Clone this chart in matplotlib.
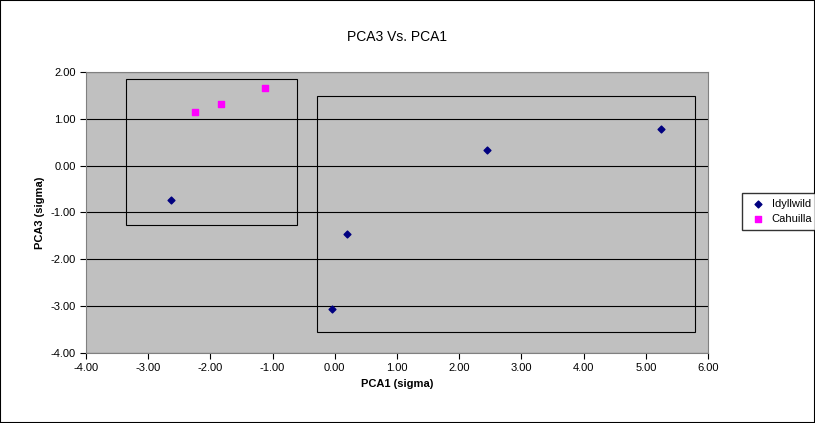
import matplotlib.pyplot as plt
from matplotlib.patches import Rectangle

idyllwild_x = [-2.63, -0.05, 0.20, 2.45, 5.25]
idyllwild_y = [-0.73, -3.05, -1.45, 0.33, 0.78]
cahuilla_x = [-2.25, -1.83, -1.12]
cahuilla_y = [1.15, 1.32, 1.65]

plt.rcParams['font.family'] = 'Liberation Sans'
plt.rcParams['font.size'] = 8

fig = plt.figure(figsize=(8.15, 4.23), dpi=100)
fig.patches.append(Rectangle((0, 0), 1, 1, transform=fig.transFigure, fill=False,
                             edgecolor='black', linewidth=1.5))
ax = fig.add_axes([0.1055, 0.1655, 0.7632, 0.6643])
ax.set_facecolor('#c0c0c0')

ax.scatter(idyllwild_x, idyllwild_y, marker='D', s=12, color='#000080', label='Idyllwild', zorder=3)
ax.scatter(cahuilla_x, cahuilla_y, marker='s', s=14, color='#ff00ff', label='Cahuilla', zorder=3)

# boxes around the groups
ax.add_patch(Rectangle((-3.35, -1.27), 2.75, 3.12, fill=False, edgecolor='black', linewidth=0.8))
ax.add_patch(Rectangle((-0.29, -3.55), 6.08, 5.04, fill=False, edgecolor='black', linewidth=0.8))

ax.set_xlim(-4, 6)
ax.set_ylim(-4, 2)
ax.set_xticks(range(-4, 7))
ax.set_yticks(range(-4, 3))
ax.xaxis.set_major_formatter(lambda v, p: '%.2f' % v)
ax.yaxis.set_major_formatter(lambda v, p: '%.2f' % v)
ax.grid(axis='y', color='black', linewidth=0.8)
ax.set_axisbelow(True)
ax.tick_params(direction='out', length=4)
for s in ax.spines.values():
    s.set_color('#808080')

ax.set_title('PCA3 Vs. PCA1', fontsize=10, pad=22)
ax.set_xlabel('PCA1 (sigma)', fontweight='bold')
ax.set_ylabel('PCA3 (sigma)', fontweight='bold')
fig.legend(loc='center left', bbox_to_anchor=(0.903, 0.5), frameon=True, fancybox=False,
           edgecolor='black', handletextpad=0.2, borderpad=0.5, fontsize=8)

plt.savefig('out.png')
plt.close()
